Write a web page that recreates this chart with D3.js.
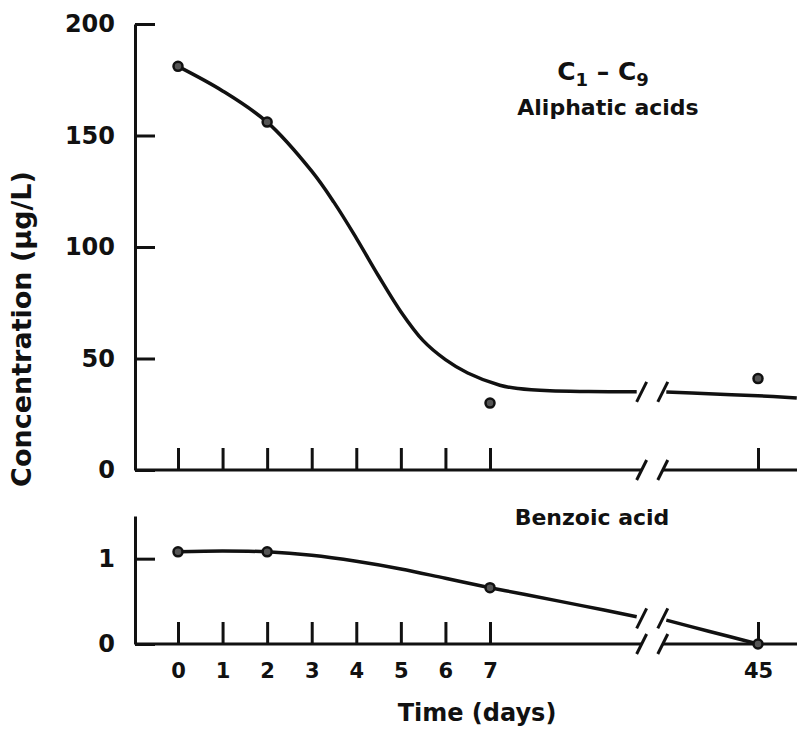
<!doctype html>
<html lang="en">
<head>
	<meta charset="UTF-8">
	<title>Concentration vs time</title>
	<style type="text/css">
	body{ margin:0; background:#fff; }
	svg text{ font-family:"DejaVu Sans", sans-serif; font-weight:bold; fill:#111; }
	</style>
	<script type="text/javascript" src="https://cdnjs.cloudflare.com/ajax/libs/d3/7.8.5/d3.min.js"></script>
</head>
<body>
	<script type="text/javascript">
		// data
		var dayTicks = [0, 1, 2, 3, 4, 5, 6, 7, 45];
		var aliphaticTicks = [0, 50, 100, 150, 200];
		var benzoicTicks = [0, 1];

		var sampleDays = [0, 2, 7, 45];
		var aliphaticValues = [181, 156, 30, 41];
		var benzoicValues = [1.08, 1.08, 0.66, 0];

		// hand-drawn fitted curves, split at the axis break
		var aliphaticFitDaysA = [0, 1, 2, 3, 3.5, 4, 4.5, 5, 5.5, 6, 6.5, 8.4, 11, 15.5, 21, 27.8];
		var aliphaticFitValsA = [181, 170, 156, 134, 120, 104, 87, 71, 58, 49.5, 43.5, 38, 36.5, 35.5, 35.2, 35.1];
		var aliphaticFitDaysB = [32, 38, 45, 50.5];
		var aliphaticFitValsB = [35, 34.2, 33.3, 32.3];

		var benzoicFitDaysA = [0, 1, 2, 3, 4, 5, 6, 7, 12, 20, 27.8];
		var benzoicFitValsA = [1.08, 1.09, 1.08, 1.04, 0.97, 0.88, 0.77, 0.66, 0.58, 0.45, 0.32];
		var benzoicFitDaysB = [32, 38, 45];
		var benzoicFitValsB = [0.28, 0.15, 0];

		var breakDays = [28.5, 31.5];

		var w = 797, h = 729;
		var left = 135, right = 797;

		var svg = d3.select('body').append('svg')
			.attr('width', w).attr('height', h);

		var x = d3.scaleLinear().domain([0, 7, 45]).range([178, 490, 758]);
		var yTop = d3.scaleLinear().domain([0, 200]).range([470, 24]);
		var yBot = d3.scaleLinear().domain([0, 1.5]).range([644, 516]);

		function panel(y, ticks, fitA, fitB, values, tickLabels){
			// y axis: ticks point inwards, labels on the left
			var ya = svg.append('g').attr('transform', 'translate(' + left + ',0)')
				.call(d3.axisLeft(y).tickValues(ticks).tickFormat(d3.format('d'))
					.tickSizeInner(-20).tickSizeOuter(0).tickPadding(20));
			ya.select('.domain').attr('stroke', '#111').attr('stroke-width', 3);
			ya.selectAll('.tick line').attr('stroke', '#111').attr('stroke-width', 3);
			ya.selectAll('.tick text').attr('font-size', 24).attr('font-family', 'DejaVu Sans').attr('font-weight', 'bold').attr('fill', '#111');

			// x axis with upward ticks
			var y0 = y(0);
			var xa = svg.append('g').attr('transform', 'translate(0,' + y0 + ')')
				.call(d3.axisBottom(x).tickValues(dayTicks).tickSizeInner(-22).tickSizeOuter(0).tickPadding(19)
					.tickFormat(tickLabels ? d3.format('d') : ''));
			xa.select('.domain').remove();
			xa.selectAll('.tick line').attr('stroke', '#111').attr('stroke-width', 3);
			xa.selectAll('.tick text').attr('font-size', 21).attr('font-family', 'DejaVu Sans').attr('font-weight', 'bold').attr('fill', '#111');

			// axis baseline broken at the gap
			svg.append('line').attr('x1', left).attr('x2', x(breakDays[0])).attr('y1', y0).attr('y2', y0)
				.attr('stroke', '#111').attr('stroke-width', 3);
			svg.append('line').attr('x1', x(breakDays[1])).attr('x2', right).attr('y1', y0).attr('y2', y0)
				.attr('stroke', '#111').attr('stroke-width', 3);

			var line = d3.line()
				.x(function(d){ return x(d[0]); })
				.y(function(d){ return y(d[1]); })
				.curve(d3.curveCatmullRom.alpha(0.5));

			[fitA, fitB].forEach(function(f){
				svg.append('path')
					.datum(d3.zip(f[0], f[1]))
					.attr('d', line)
					.attr('fill', 'none').attr('stroke', '#111').attr('stroke-width', 3.5);
			});

			// break slashes on the axis and on the curve
			var curveY = (fitA[1][fitA[1].length - 1] + fitB[1][0]) / 2;
			[y0, y(curveY)].forEach(function(cy){
				breakDays.forEach(function(b){
					var cx = x(b);
					svg.append('line')
						.attr('x1', cx - 5).attr('y1', cy + 10)
						.attr('x2', cx + 5).attr('y2', cy - 10)
						.attr('stroke', '#111').attr('stroke-width', 3);
				});
			});

			svg.append('g').selectAll('circle')
				.data(d3.zip(sampleDays, values))
				.enter().append('circle')
				.attr('cx', function(d){ return x(d[0]); })
				.attr('cy', function(d){ return y(d[1]); })
				.attr('r', 4.5)
				.attr('fill', '#555')
				.attr('stroke', '#111').attr('stroke-width', 2.5);
		}

		panel(yTop, aliphaticTicks, [aliphaticFitDaysA, aliphaticFitValsA], [aliphaticFitDaysB, aliphaticFitValsB], aliphaticValues, false);
		panel(yBot, benzoicTicks, [benzoicFitDaysA, benzoicFitValsA], [benzoicFitDaysB, benzoicFitValsB], benzoicValues, true);

		// series labels
		var c = svg.append('text').attr('x', 603).attr('y', 80).attr('text-anchor', 'middle').attr('font-size', 25);
		c.append('tspan').text('C');
		c.append('tspan').attr('dy', 6).attr('font-size', 18).text('1');
		c.append('tspan').attr('dy', -6).text(' \u2013 C');
		c.append('tspan').attr('dy', 6).attr('font-size', 18).text('9');

		svg.append('text').attr('x', 608).attr('y', 115).attr('text-anchor', 'middle')
			.attr('font-size', 22).text('Aliphatic acids');
		svg.append('text').attr('x', 592).attr('y', 525).attr('text-anchor', 'middle')
			.attr('font-size', 22).text('Benzoic acid');

		// axis titles
		svg.append('text').attr('x', 477).attr('y', 721).attr('text-anchor', 'middle')
			.attr('font-size', 24).text('Time (days)');
		svg.append('text')
			.attr('transform', 'translate(31,329) rotate(-90)')
			.attr('text-anchor', 'middle')
			.attr('font-size', 27).text('Concentration (\u00b5g/L)');
	</script>
</body>
</html>
